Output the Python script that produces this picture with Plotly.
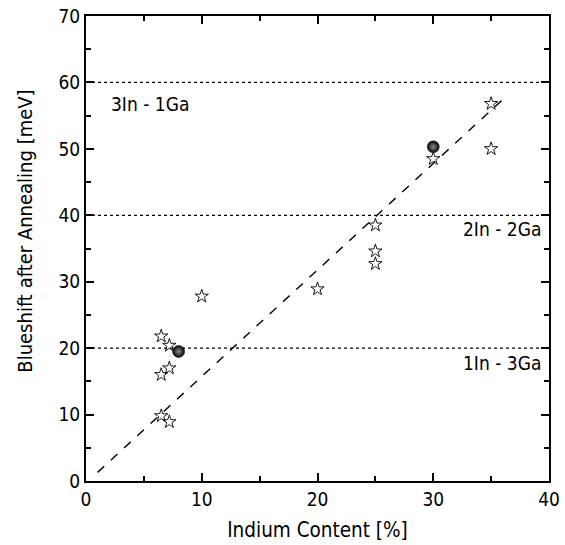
import plotly.graph_objects as go

# Measured blueshift for each sample (open stars)
star_indium = [6.5, 7.2, 6.5, 7.2, 6.5, 7.2, 10, 20, 25, 25, 25, 30, 35, 35]
star_shift = [21.8, 20.4, 16.0, 17.0, 9.8, 8.9, 27.8, 28.9, 38.5, 34.6, 32.7, 48.5, 56.8, 50.0]

# Calculated values (filled spheres)
calc_indium = [8, 30]
calc_shift = [19.5, 50.3]

# Linear guide through the data
fit_indium = [1.0, 36.3]
fit_shift = [1.3, 57.9]

# Configuration levels (horizontal dotted lines)
level_values = [60, 40, 20]
level_labels = ["3In - 1Ga", "2In - 2Ga", "1In - 3Ga"]
level_label_x = [2.0, 39.5, 39.5]
level_label_y = [56.8, 37.9, 17.8]
level_label_anchor = ["left", "right", "right"]

x_title = "Indium Content [%]"
y_title = "Blueshift after Annealing [meV]"

FONT = "DejaVu Sans Condensed, Liberation Sans Narrow, DejaVu Sans, sans-serif"

fig = go.Figure()

for v in level_values:
    fig.add_trace(go.Scatter(
        x=[0, 40], y=[v, v], mode="lines",
        line=dict(color="black", width=1.2, dash="dot"),
        hoverinfo="skip", showlegend=False,
    ))

fig.add_trace(go.Scatter(
    x=fit_indium, y=fit_shift, mode="lines",
    line=dict(color="black", width=1.4, dash="dash"),
    showlegend=False,
))

fig.add_trace(go.Scatter(
    x=star_indium, y=star_shift, mode="markers",
    marker=dict(symbol="star-open", size=10, color="black", line=dict(width=0.9, color="black")),
    showlegend=False,
))

fig.add_trace(go.Scatter(
    x=calc_indium, y=calc_shift, mode="markers",
    marker=dict(symbol="circle", size=12, color="#050505",
                gradient=dict(type="radial", color="#8a8a8a"),
                line=dict(width=0.5, color="black")),
    showlegend=False,
))

for lbl, lx, ly, anc in zip(level_labels, level_label_x, level_label_y, level_label_anchor):
    fig.add_annotation(x=lx, y=ly, text=lbl, showarrow=False, xanchor=anc, yanchor="middle",
                       font=dict(family=FONT, size=19, color="black"))

# Vertical axis title, placed slightly above the axis centre
fig.add_annotation(xref="paper", yref="paper", x=-0.132, y=0.538, text=y_title,
                   textangle=-90, showarrow=False, xanchor="center", yanchor="middle",
                   font=dict(family=FONT, size=20, color="black"))

axis_common = dict(
    showline=True, linecolor="black", linewidth=2, mirror="ticks",
    ticks="inside", ticklen=8, tickwidth=1.5, tickcolor="black",
    showgrid=False, zeroline=False, automargin=False,
    tickfont=dict(family=FONT, size=19, color="black"),
)

fig.update_xaxes(
    range=[0, 40], dtick=10, tick0=0,
    minor=dict(ticks="inside", ticklen=5, tickwidth=1.5, tickcolor="black", dtick=5, showgrid=False),
    title=dict(text=x_title, font=dict(family=FONT, size=20.5, color="black"), standoff=14),
    **axis_common,
)
fig.update_yaxes(
    range=[0, 70], dtick=10, tick0=0,
    minor=dict(ticks="inside", ticklen=5, tickwidth=1.5, tickcolor="black", dtick=5, showgrid=False),
    **axis_common,
)

fig.update_layout(
    width=565, height=545,
    margin=dict(l=86, r=16, t=16, b=64),
    paper_bgcolor="white", plot_bgcolor="white",
)

fig.write_html("out.html")
